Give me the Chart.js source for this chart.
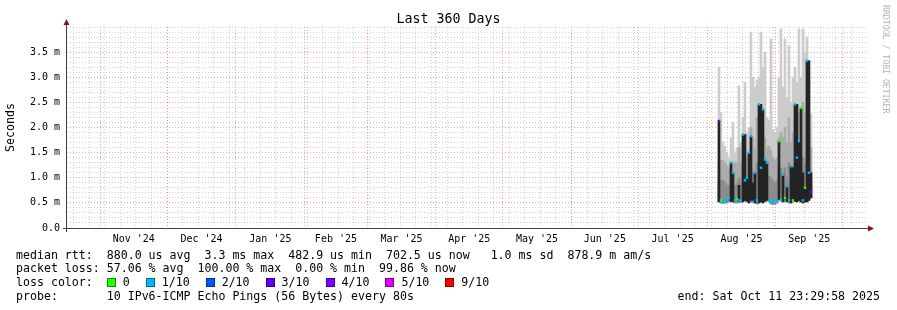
<!DOCTYPE html>
<html>
<head>
<meta charset="utf-8">
<title>Last 360 Days</title>
<script src="https://cdn.jsdelivr.net/npm/chart.js@4.4.1/dist/chart.umd.min.js"></script>
<style>
  html, body { margin: 0; padding: 0; background: #fff; }
  #wrap { position: relative; width: 897px; height: 310px; overflow: hidden;
          font-family: "DejaVu Sans Mono", monospace; color: #000; }
  #chartBox { position: absolute; left: 0; top: 0; width: 897px; height: 250px; }
  .t { position: absolute; white-space: pre; line-height: 12px; font-size: 11.6px; }
  #title { position: absolute; left: 0; width: 897px; top: 12px; text-align: center;
           font-size: 13.3px; line-height: 14px; white-space: pre; }
  #mark { position: absolute; left: 881px; top: 5px; writing-mode: vertical-rl;
          font-size: 8.2px; color: #b4b4b4; white-space: pre; }
  .box { display: inline-block; width: 7px; height: 7px; border: 1px solid rgba(0,0,0,0.45);
         vertical-align: -1px; margin-right: 7px; }
  .gap { display: inline-block; width: 16px; }
</style>
</head>
<body>
<div id="wrap">
  <div id="chartBox"><canvas id="c"></canvas></div>
  <div id="title">Last 360 Days</div>
  <div id="mark">RRDTOOL / TOBI OETIKER</div>
  <div class="t" id="row1" style="left:16px; top:249px;"></div>
  <div class="t" id="row2" style="left:16px; top:262px;"></div>
  <div class="t" id="row3" style="left:16px; top:276px;"></div>
  <div class="t" id="row4" style="left:16px; top:290px;"></div>
  <div class="t" id="end" style="right:17px; top:290px;"></div>
</div>
<script>
// time range of the graph (360 days ending Oct 11 2025 23:29:58)
const rangeDays = 360;
const startTime = Date.parse('2024-10-16T23:29:58Z');
const toDay = iso => (Date.parse(iso + 'T00:00:00Z') - startTime) / 86400000;

// x axis: month boundaries (red grid), labels sit in the middle of each month
const monthStarts = ['2024-11-01', '2024-12-01', '2025-01-01', '2025-02-01', '2025-03-01', '2025-04-01',
                     '2025-05-01', '2025-06-01', '2025-07-01', '2025-08-01', '2025-09-01', '2025-10-01'];
const monthLabels = ["Nov '24", "Dec '24", "Jan '25", "Feb '25", "Mar '25", "Apr '25",
                     "May '25", "Jun '25", "Jul '25", "Aug '25", "Sep '25"];
const firstSunday = '2024-10-20';

// y axis
const yMax = 4.0;
const yMajor = [0, 0.5, 1.0, 1.5, 2.0, 2.5, 3.0, 3.5];
const yLabels = ['0.0', '0.5 m', '1.0 m', '1.5 m', '2.0 m', '2.5 m', '3.0 m', '3.5 m'];

// samples (ms), one every 0.9 days starting Aug 5 2025 22:00
const sampleStart = '2025-08-05';
const sampleStepDays = 0.9;
const maxRtt = [3.2, 2.3, 1.71, 1.63, 1.5, 1.4, 1.8, 2.1, 1.5, 1.6, 2.83, 1.7, 2.2, 2.9, 1.9, 2.0,
                3.9, 3.0, 2.8, 2.95, 3.0, 3.9, 3.2, 3.5, 2.2, 2.15, 3.76, 1.96, 1.9, 2.0, 3.0, 3.96,
                2.8, 3.76, 2.6, 3.63, 2.5, 3.0, 3.2, 2.9, 3.96, 3.0, 3.96, 3.49, 3.8, 3.0, 2.26];
const upperRtt = [1.3, 1.35, 1.35, 1.3, 1.25, 1.2, 1.2, 1.3, 1.3, 1.3, 1.6, 1.3, 1.5, 1.6, 1.4, 1.5,
                  2.0, 1.8, 1.6, 2.2, 2.1, 2.2, 2.0, 1.8, 1.6, 1.63, 1.55, 1.4, 1.35, 1.4, 1.8, 1.9,
                  1.8, 2.0, 1.7, 2.2, 1.7, 1.9, 2.2, 2.0, 2.3, 2.2, 2.5, 2.3, 2.6, 2.0, 1.6];
const innerRtt = [0.9, 0.95, 0.95, 0.9, 0.85, 0.85, 0.9, 0.9, 0.85, 0.9, 1.0, 0.9, 1.0, 1.0, 0.9, 1.0,
                  1.2, 1.1, 1.0, 1.3, 1.2, 1.3, 1.2, 1.1, 1.05, 1.03, 1.0, 0.95, 0.9, 0.95, 1.1, 1.2,
                  1.1, 1.2, 1.0, 1.3, 1.0, 1.1, 1.3, 1.2, 1.4, 1.3, 1.4, 1.3, 1.5, 1.2, 1.0];
const coreRtt = [2.13, null, null, null, null, null, 1.3, 1.1, null, null, 0.85, null, 1.86, 1.86, 1.0, 1.5,
                 1.83, 0.9, 1.1, null, 2.46, 2.46, 2.36, 1.36, 1.3, null, null, null, null, null, 1.73, null,
                 1.06, null, 0.83, null, 1.23, 1.2, 2.46, 2.46, 1.73, 2.39, 1.1, 0.8, 3.33, 3.33, 1.1];
const minRtt = [0.52, 0.5, 0.49, 0.5, 0.5, 0.52, 0.53, 0.52, 0.5, 0.5, 0.52, 0.53, 0.52, 0.55, 0.53, 0.5,
                0.55, 0.52, 0.5, 0.48, 0.5, 0.52, 0.5, 0.53, 0.55, 0.52, 0.48, 0.47, 0.47, 0.5, 0.56, 0.6,
                0.52, 0.55, 0.52, 0.5, 0.5, 0.55, 0.53, 0.52, 0.55, 0.52, 0.5, 0.52, 0.52, 0.55, 0.6];
const medianRtt = [2.13, 0.55, 0.52, 0.52, 0.56, 0.6, 1.3, 1.1, 0.55, 0.58, 0.55, 0.52, 1.86, 0.95, 1.0, 1.5,
                   1.83, 0.52, 1.1, 0.55, 2.46, 1.2, 2.36, 1.36, 1.3, 0.55, 0.52, 0.52, 0.53, 0.55, 1.73, 0.55,
                   1.06, 0.6, 0.83, 0.55, 1.23, 0.55, 2.46, 1.4, 1.73, 2.39, 0.55, 0.8, 3.33, 1.1, 0.72];
const lossTenths = [4, 0, 1, 1, 1, 1, 1, 1, 1, 0, 1, 1, 1, 1, 1, 1,
                    1, 1, 1, 1, 1, 1, 1, 1, 1, 1, 1, 1, 1, 1, 0, 1,
                    1, 0, 1, 1, 1, 0, 1, 1, 1, 0, 1, 0, 1, 1, 4];

// loss colour legend
const lossSteps = [0, 1, 2, 3, 4, 5, 9];
const lossLabels = ['0', '1/10', '2/10', '3/10', '4/10', '5/10', '9/10'];
const lossColors = ['#26ff00', '#00b8ff', '#0059ff', '#5e00ff', '#7e00ff', '#dd00ff', '#ff0000'];

const statsRtt = 'median rtt:  880.0 us avg  3.3 ms max  482.9 us min  702.5 us now   1.0 ms sd  878.9 m am/s';
const statsLoss = 'packet loss: 57.06 % avg  100.00 % max  0.00 % min  99.86 % now';
const probeText = 'probe:       10 IPv6-ICMP Echo Pings (56 Bytes) every 80s';
const endText = 'end: Sat Oct 11 23:29:58 2025';

// ---------- derived positions ----------
const monthDays = monthStarts.map(toDay);
const labelDays = monthLabels.map((_, i) => (monthDays[i] + monthDays[i + 1]) / 2);
const weekDays = [];
for (let d = toDay(firstSunday); d < rangeDays; d += 7) weekDays.push(d);
const yMinor = [];
for (let i = 1; i <= 40; i++) if (i % 5 !== 0 || i === 40) yMinor.push(i / 10);

// column centres of the samples
const x0 = toDay(sampleStart) + 22 / 24 + sampleStepDays / 2;
const sampleX = maxRtt.map((_, i) => x0 + i * sampleStepDays);
const lossColorOf = l => {
  let c = lossColors[0];
  lossSteps.forEach((s, k) => { if (l >= s) c = lossColors[k]; });
  return c;
};

const FONT = 'DejaVu Sans Mono';
const dotted = [1, 2];
const minorGrid = 'rgba(165,165,165,0.5)';
const majorGrid = 'rgba(255,95,95,0.6)';

function gridAxis(pos, values, color, min, max) {
  const horizontal = pos === 'bottom';
  return {
    type: 'linear', position: pos, min: min, max: max, offset: false,
    afterBuildTicks: ax => { ax.ticks = values.map(v => ({ value: v })); },
    afterFit: ax => { if (horizontal) ax.height = 0; else ax.width = 0; },
    ticks: { display: false },
    grid: { color: color, drawTicks: false, lineWidth: 1 },
    border: { display: false, dash: dotted }
  };
}

// one smoke layer = floating bar per column from the fastest ping up to the layer value
const smoke = (label, data, color) => ({
  type: 'bar', label: label,
  data: data.map((v, i) => v === null ? null : { x: sampleX[i], y: [minRtt[i], v] }).filter(Boolean),
  backgroundColor: color, borderWidth: 0, grouped: false, barThickness: 2,
  xAxisID: 'x', yAxisID: 'y'
});

const axisArrows = {
  id: 'axisArrows',
  afterDatasetsDraw(chart) {
    const { ctx, chartArea: a } = chart;
    ctx.save();
    ctx.strokeStyle = '#404040';
    ctx.lineWidth = 1;
    ctx.beginPath();
    ctx.moveTo(a.left - 0.5, a.bottom + 4);
    ctx.lineTo(a.left - 0.5, a.top - 5);
    ctx.moveTo(a.left - 4, a.bottom + 0.5);
    ctx.lineTo(a.right + 4, a.bottom + 0.5);
    ctx.stroke();
    ctx.fillStyle = '#8b1414';
    ctx.beginPath();
    ctx.moveTo(a.left - 0.5, a.top - 8);
    ctx.lineTo(a.left - 3.5, a.top - 2);
    ctx.lineTo(a.left + 2.5, a.top - 2);
    ctx.closePath();
    ctx.fill();
    ctx.beginPath();
    ctx.moveTo(a.right + 7, a.bottom + 0.5);
    ctx.lineTo(a.right + 1, a.bottom - 2.5);
    ctx.lineTo(a.right + 1, a.bottom + 3.5);
    ctx.closePath();
    ctx.fill();
    ctx.restore();
  }
};

new Chart(document.getElementById('c'), {
  type: 'line',
  data: {
    datasets: [
      {
        label: 'median', data: medianRtt.map((v, i) => ({ x: sampleX[i], y: v })),
        showLine: false, pointStyle: 'rect', pointRadius: 1.7, pointBorderWidth: 0,
        pointBackgroundColor: lossTenths.map(lossColorOf), xAxisID: 'x', yAxisID: 'y'
      },
      smoke('core', coreRtt, '#242424'),
      smoke('inner', innerRtt, '#8c8c8c'),
      smoke('upper', upperRtt, '#ababab'),
      smoke('max', maxRtt, '#cccccc')
    ]
  },
  options: {
    responsive: true,
    maintainAspectRatio: false,
    animation: false,
    events: [],
    layout: { padding: { left: 0, top: 27, right: 30, bottom: 0 } },
    plugins: { legend: { display: false }, tooltip: { enabled: false }, title: { display: false } },
    scales: {
      yMinor: gridAxis('left', yMinor, minorGrid, 0, yMax),
      xWeek: gridAxis('bottom', weekDays, minorGrid, 0, rangeDays),
      y: {
        type: 'linear', position: 'left', min: 0, max: yMax,
        afterBuildTicks: ax => { ax.ticks = yMajor.map(v => ({ value: v })); },
        afterFit: ax => { ax.width = 67; },
        ticks: { callback: (v, i) => yLabels[i], color: '#000', padding: 7,
                 font: { family: FONT, size: 10 } },
        grid: { color: majorGrid, drawTicks: false, lineWidth: 1 },
        border: { display: false, dash: dotted },
        title: { display: true, text: 'Seconds', color: '#000', padding: { top: 4, bottom: 0 },
                 font: { family: FONT, size: 11.6 } }
      },
      xMonth: gridAxis('bottom', monthDays, majorGrid, 0, rangeDays),
      x: {
        type: 'linear', position: 'bottom', min: 0, max: rangeDays, offset: false,
        afterBuildTicks: ax => { ax.ticks = labelDays.map(v => ({ value: v })); },
        afterFit: ax => { ax.height = 22; },
        ticks: { callback: (v, i) => monthLabels[i], color: '#000', padding: 5,
                 autoSkip: false, maxRotation: 0, font: { family: FONT, size: 10 } },
        grid: { display: false, drawTicks: false, offset: false },
        border: { display: false }
      }
    }
  },
  plugins: [axisArrows]
});

// ---------- text legend below the graph ----------
document.getElementById('row1').textContent = statsRtt;
document.getElementById('row2').textContent = statsLoss;
document.getElementById('row4').textContent = probeText;
document.getElementById('end').textContent = endText;
const row3 = document.getElementById('row3');
row3.appendChild(document.createTextNode('loss color:  '));
lossLabels.forEach((lab, k) => {
  if (k > 0) { const g = document.createElement('span'); g.className = 'gap'; row3.appendChild(g); }
  const b = document.createElement('span');
  b.className = 'box';
  b.style.background = lossColors[k];
  row3.appendChild(b);
  row3.appendChild(document.createTextNode(lab));
});
</script>
</body>
</html>
